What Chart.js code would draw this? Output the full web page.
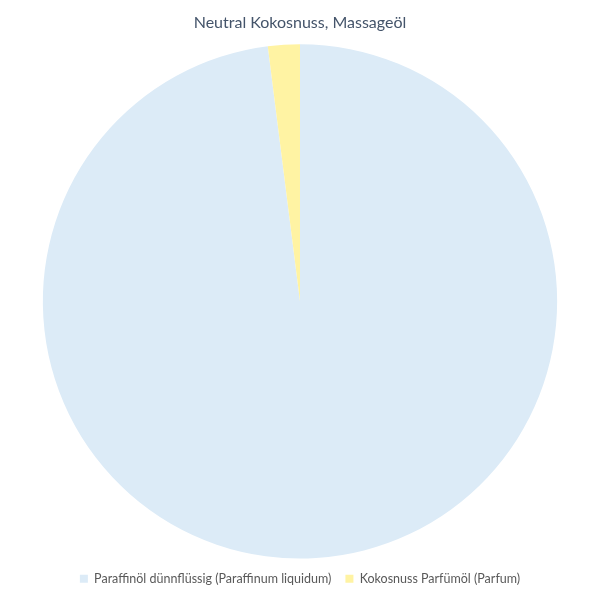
<!DOCTYPE html>
<html>
<head>
<meta charset="utf-8">
<script src="https://cdn.jsdelivr.net/npm/chart.js@4/dist/chart.umd.min.js"></script>
<style>
  html, body { margin: 0; padding: 0; background: #fff; }
  #wrap { width: 600px; height: 600px; }
</style>
</head>
<body>
<div id="wrap"><canvas id="pieChart"></canvas></div>
<script>
const labels = ["Paraffinöl dünnflüssig (Paraffinum liquidum)", "Kokosnuss Parfümöl (Parfum)"];
const values = [98, 2];
const colors = ["#DCEBF7", "#FFF3A3"];

new Chart(document.getElementById("pieChart").getContext("2d"), {
  type: "pie",
  data: {
    labels: labels,
    datasets: [{
      data: values,
      backgroundColor: colors,
      borderWidth: 0
    }]
  },
  options: {
    responsive: true,
    maintainAspectRatio: false,
    animation: false,
    layout: { padding: { top: 0, bottom: 5 } },
    plugins: {
      title: {
        display: true,
        text: "Neutral Kokosnuss, Massageöl",
        color: "#44546A",
        font: { family: "Lato", size: 16, weight: "normal" },
        padding: { top: 13, bottom: 12 }
      },
      legend: {
        position: "bottom",
        labels: {
          color: "#595959",
          font: { family: "Lato", size: 12.5 },
          boxWidth: 8,
          boxHeight: 8,
          padding: 14
        }
      },
      tooltip: { enabled: false }
    }
  }
});
</script>
</body>
</html>
